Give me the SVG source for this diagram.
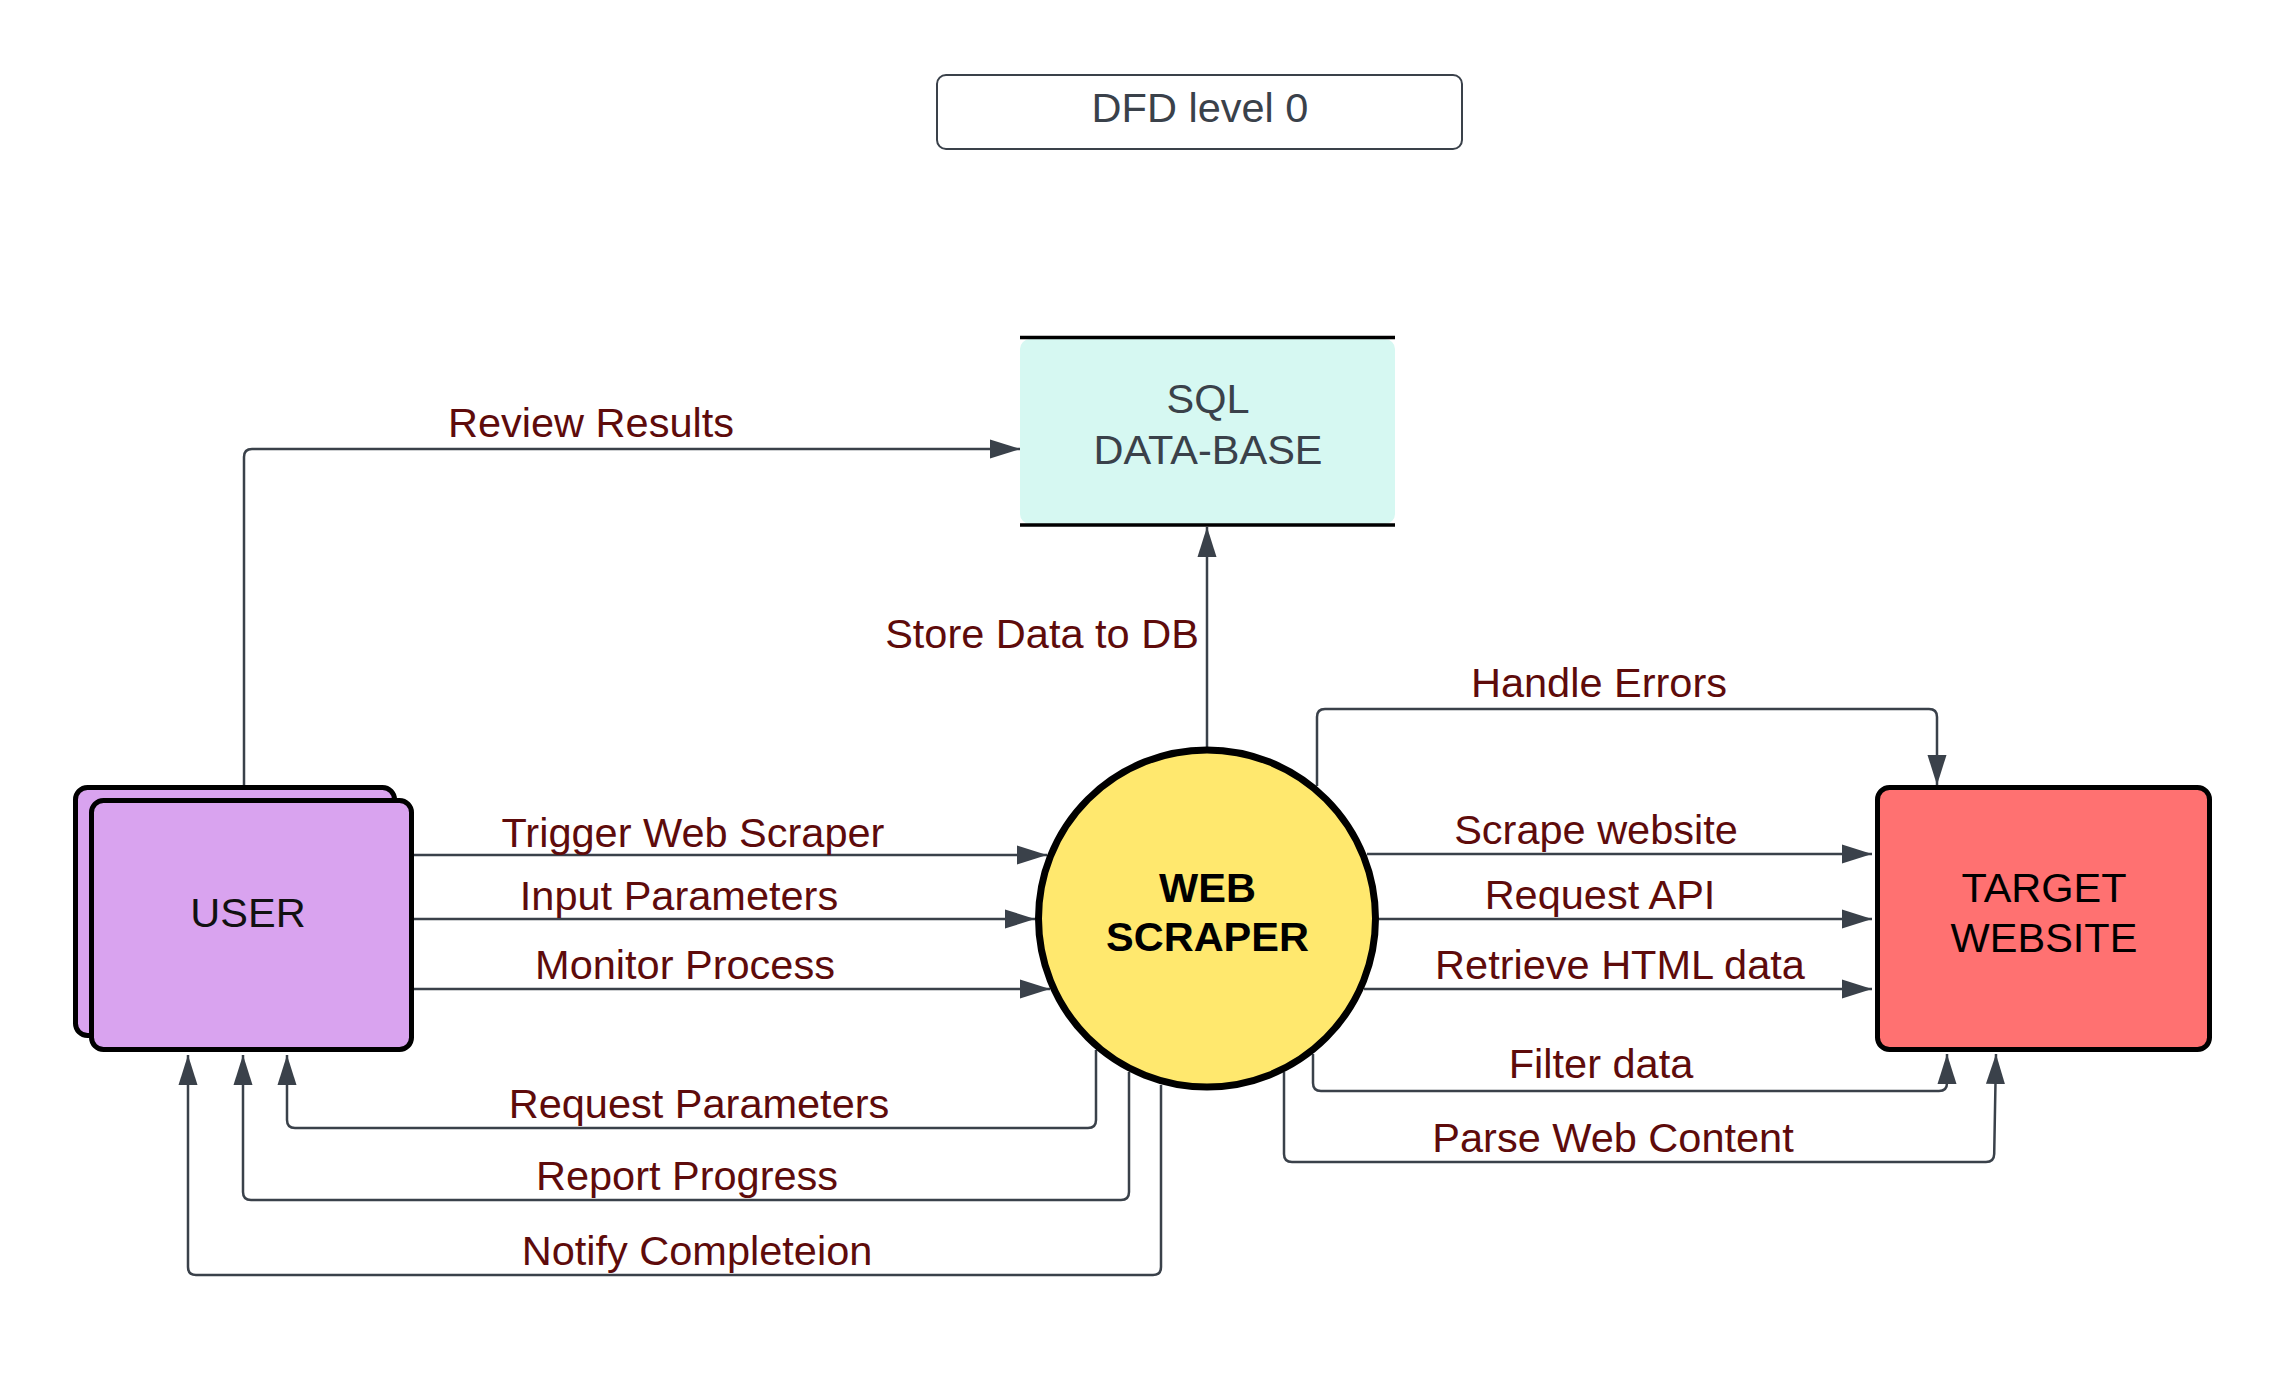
<svg xmlns="http://www.w3.org/2000/svg" width="2288" height="1388" viewBox="0 0 2288 1388">
<defs>
<style>
.lbl{font-family:"Liberation Sans",Arial,sans-serif;font-size:41.5px;fill:#5e0b0b;text-anchor:middle}
.node{font-family:"Liberation Sans",Arial,sans-serif;font-size:41.5px;text-anchor:middle}
.conn{fill:none;stroke:#3a414a;stroke-width:2.5}
</style>
<marker id="arr" markerUnits="userSpaceOnUse" markerWidth="30" markerHeight="20" refX="30" refY="10" orient="auto" viewBox="0 0 30 20">
<path d="M0,0.5 L30,10 L0,19.5 z" fill="#3a414a"/>
</marker>
</defs>
<rect width="2288" height="1388" fill="#ffffff"/>

<g id="title">
<rect x="937" y="75" width="525" height="74" rx="9" fill="#ffffff" stroke="#3a414a" stroke-width="2"/>
<text class="node" x="1200" y="122" fill="#3a414a">DFD level 0</text>
</g>

<g id="connectors">
<path class="conn" d="M244,786 V457 Q244,449 252,449 H1020" marker-end="url(#arr)"/>
<path class="conn" d="M1207,747 V527" marker-end="url(#arr)"/>
<path class="conn" d="M1317,786 V717 Q1317,709 1325,709 H1929 Q1937,709 1937,717 V785" marker-end="url(#arr)"/>
<path class="conn" d="M414,855 H1047" marker-end="url(#arr)"/>
<path class="conn" d="M414,919 H1035" marker-end="url(#arr)"/>
<path class="conn" d="M414,989 H1050" marker-end="url(#arr)"/>
<path class="conn" d="M1367,854 H1872" marker-end="url(#arr)"/>
<path class="conn" d="M1379,919 H1872" marker-end="url(#arr)"/>
<path class="conn" d="M1364,989 H1872" marker-end="url(#arr)"/>
<path class="conn" d="M1313,1054 V1083 Q1313,1091 1321,1091 H1939 Q1947,1091 1947,1083 V1054" marker-end="url(#arr)"/>
<path class="conn" d="M1284,1072 V1154 Q1284,1162 1292,1162 H1986 Q1994,1162 1994.2,1154 L1996,1054" marker-end="url(#arr)"/>
<path class="conn" d="M1096,1050 V1120 Q1096,1128 1088,1128 H295 Q287,1128 287,1120 V1055" marker-end="url(#arr)"/>
<path class="conn" d="M1129,1072 V1192 Q1129,1200 1121,1200 H251 Q243,1200 243,1192 V1055" marker-end="url(#arr)"/>
<path class="conn" d="M1161,1085 V1267 Q1161,1275 1153,1275 H196 Q188,1275 188,1267 V1055" marker-end="url(#arr)"/>

<text class="lbl" x="591" y="437">Review Results</text>
<text class="lbl" x="1042" y="648">Store Data to DB</text>
<text class="lbl" x="1599" y="697">Handle Errors</text>
<text class="lbl" x="693" y="847">Trigger Web Scraper</text>
<text class="lbl" x="679" y="910">Input Parameters</text>
<text class="lbl" x="685" y="979">Monitor Process</text>
<text class="lbl" x="1596" y="844">Scrape website</text>
<text class="lbl" x="1600" y="909">Request API</text>
<text class="lbl" x="1620" y="979">Retrieve HTML data</text>
<text class="lbl" x="1601" y="1078">Filter data</text>
<text class="lbl" x="1613" y="1152">Parse Web Content</text>
<text class="lbl" x="699" y="1118">Request Parameters</text>
<text class="lbl" x="687" y="1190">Report Progress</text>
<text class="lbl" x="697" y="1265">Notify Completeion</text>
</g>

<g id="sql-database">
<rect x="1020" y="339" width="375" height="185" rx="10" fill="#d6f8f2"/>
<line x1="1020" y1="337.5" x2="1395" y2="337.5" stroke="#000" stroke-width="3.5"/>
<line x1="1020" y1="525" x2="1395" y2="525" stroke="#000" stroke-width="3.5"/>
<text class="node" x="1208" y="413" fill="#3a414a">SQL</text>
<text class="node" x="1208" y="464" fill="#3a414a">DATA-BASE</text>
</g>

<g id="user">
<rect x="75.5" y="787.5" width="319" height="248" rx="12" fill="#d9a3ef" stroke="#000" stroke-width="5"/>
<rect x="91.5" y="800.5" width="320" height="249" rx="12" fill="#d9a3ef" stroke="#000" stroke-width="5"/>
<text class="node" x="248" y="927" fill="#111">USER</text>
</g>

<g id="web-scraper">
<circle cx="1207" cy="918.5" r="168.5" fill="#ffe86e" stroke="#000" stroke-width="7"/>
<text class="node" x="1207.5" y="902" fill="#000" font-weight="bold" font-size="42">WEB</text>
<text class="node" x="1207.5" y="951" fill="#000" font-weight="bold" font-size="42">SCRAPER</text>
</g>

<g id="target-website">
<rect x="1877.5" y="787.5" width="332" height="262" rx="12" fill="#ff7171" stroke="#000" stroke-width="5"/>
<text class="node" x="2044" y="902" fill="#000">TARGET</text>
<text class="node" x="2044" y="952" fill="#000">WEBSITE</text>
</g>
</svg>
